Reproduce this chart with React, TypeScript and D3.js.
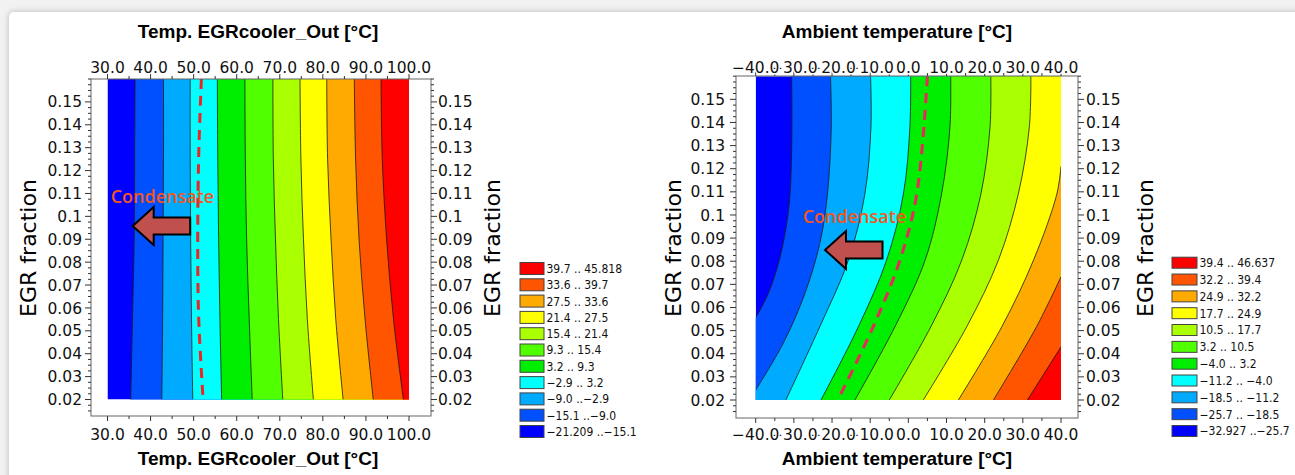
import React from 'react';
import * as d3 from 'd3';

// ---------------- data ----------------
const bandColors = ['#0000ff', '#0050ff', '#00aaff', '#00ffff', '#00ee00', '#50ff00', '#aaff00', '#ffff00', '#ffaa00', '#ff5500', '#ff0000'];

const fractionTicks = [0.02, 0.03, 0.04, 0.05, 0.06, 0.07, 0.08, 0.09, 0.1, 0.11, 0.12, 0.13, 0.14, 0.15];
const fractionTickLabels = ['0.02', '0.03', '0.04', '0.05', '0.06', '0.07', '0.08', '0.09', '0.1', '0.11', '0.12', '0.13', '0.14', '0.15'];

// Left chart: Temp. EGRcooler_Out
const leftTempTicks = [30, 40, 50, 60, 70, 80, 90, 100];
const leftTempTickLabels = ['30.0', '40.0', '50.0', '60.0', '70.0', '80.0', '90.0', '100.0'];
const leftLevels = [-21.209, -15.1, -9.0, -2.9, 3.2, 9.3, 15.4, 21.4, 27.5, 33.6, 39.7, 45.818];
const leftLegendLabels = ['39.7 .. 45.818', '33.6 .. 39.7', '27.5 .. 33.6', '21.4 .. 27.5', '15.4 .. 21.4', '9.3 .. 15.4', '3.2 .. 9.3', '\u22122.9 .. 3.2', '\u22129.0 ..\u22122.9', '\u221215.1 ..\u22129.0', '\u221221.209 ..\u221215.1'];
const leftBoundaryFractions = [0.16, 0.125, 0.09, 0.055, 0.02];
// temperature where each contour level (-15.1 ... 39.7) crosses the fractions above
const leftBoundaryTemps = [
  [36.4, 36.3, 36.2, 35.8, 35.4],
  [43.0, 43.0, 42.9, 42.8, 42.6],
  [49.2, 49.2, 49.3, 49.5, 49.8],
  [55.5, 55.6, 55.8, 56.1, 56.5],
  [61.9, 62.0, 62.3, 62.9, 63.6],
  [68.4, 68.5, 69.0, 69.7, 70.7],
  [74.7, 74.9, 75.5, 76.4, 77.8],
  [80.9, 81.1, 81.9, 83.0, 84.7],
  [87.3, 87.6, 88.4, 89.8, 91.7],
  [93.5, 93.8, 94.8, 96.4, 98.7],
];
const leftCondensate: [number, number][] = [[51.8, 0.16], [51.1, 0.12], [51.1, 0.06], [52.2, 0.02]];

// Right chart: Ambient temperature
const rightTempTicks = [-40, -30, -20, -10, 0, 10, 20, 30, 40];
const rightTempTickLabels = ['\u221240.0', '\u221230.0', '\u221220.0', '\u221210.0', '0.0', '10.0', '20.0', '30.0', '40.0'];
const rightLevels = [-32.927, -25.7, -18.5, -11.2, -4.0, 3.2, 10.5, 17.7, 24.9, 32.2, 39.4, 46.637];
const rightLegendLabels = ['39.4 .. 46.637', '32.2 .. 39.4', '24.9 .. 32.2', '17.7 .. 24.9', '10.5 .. 17.7', '3.2 .. 10.5', '\u22124.0 .. 3.2', '\u221211.2 .. \u22124.0', '\u221218.5 .. \u221211.2', '\u221225.7 .. \u221218.5', '\u221232.927 ..\u221225.7'];
// contour boundaries [ambient temp, EGR fraction], levels -25.7 ... 39.4
const rightBoundaries: [number, number][][] = [
  [[-30.6, 0.16], [-30.5, 0.138], [-31.0, 0.109], [-32.0, 0.095], [-33.8, 0.0805], [-36.7, 0.066], [-40, 0.0555]],
  [[-20.4, 0.16], [-20.2, 0.138], [-21.2, 0.109], [-23.2, 0.0877], [-27.1, 0.0661], [-32.8, 0.0445], [-40, 0.0243]],
  [[-9.9, 0.16], [-9.8, 0.138], [-11.4, 0.109], [-15.7, 0.0805], [-23.2, 0.0517], [-32.1, 0.02]],
  [[0.6, 0.16], [0.4, 0.138], [-1.3, 0.109], [-5.7, 0.0805], [-13.1, 0.0517], [-22.9, 0.02]],
  [[11.1, 0.16], [10.9, 0.138], [8.7, 0.109], [4.4, 0.0805], [-3.5, 0.0517], [-14.0, 0.02]],
  [[21.6, 0.16], [21.4, 0.138], [19.0, 0.109], [14.0, 0.0805], [5.9, 0.0517], [-5.0, 0.02]],
  [[32.1, 0.16], [31.7, 0.138], [28.8, 0.109], [23.6, 0.0805], [15.3, 0.0517], [3.9, 0.02]],
  [[40, 0.121], [38.9, 0.109], [32.8, 0.0805], [24.5, 0.0517], [13.1, 0.02]],
  [[40, 0.0733], [33.6, 0.0517], [22.3, 0.02]],
  [[40, 0.043], [31.2, 0.02]],
];
const rightCondensate: [number, number][] = [[5.0, 0.16], [2.2, 0.109], [-2.2, 0.0805], [-9.2, 0.0517], [-18.5, 0.02]];

// ---------------- chart ----------------
type Cfg = {
  id: string;
  title: string;
  titleX: number;
  xDomain: [number, number];
  xRange: [number, number];
  yRange: [number, number];
  frame: { l: number; t: number; r: number; b: number };
  xTicks: number[];
  xTickLabels: string[];
  boundaries: [number, number][][];
  condensate: [number, number][];
  dashColor: string;
  arrowTip: [number, number];
  textPos: [number, number];
  yLabelLeftX: number;
  yLabelRightX: number;
  yTickLabelLeftX: number;
  yTickLabelRightX: number;
  legendX: number;
  legendY: number;
  legendPitch: number;
  legendW: number;
  legendH: number;
  legendLabels: string[];
};

const leftCfg: Cfg = {
  id: 'left',
  title: 'Temp. EGRcooler_Out [°C]',
  titleX: 258,
  xDomain: [30, 100],
  xRange: [107.5, 409],
  yRange: [399.5, 79],
  frame: { l: 91, t: 79, r: 431, b: 416 },
  xTicks: leftTempTicks,
  xTickLabels: leftTempTickLabels,
  boundaries: leftBoundaryTemps.map((row) => row.map((t, j) => [t, leftBoundaryFractions[j]] as [number, number])),
  condensate: leftCondensate,
  dashColor: '#ee2424',
  arrowTip: [35.85, 0.0958],
  textPos: [30.74, 0.1059],
  yLabelLeftX: 36,
  yLabelRightX: 500,
  yTickLabelLeftX: 82,
  yTickLabelRightX: 438,
  legendX: 520,
  legendY: 268.5,
  legendPitch: 16.3,
  legendW: 24,
  legendH: 12,
  legendLabels: leftLegendLabels,
};

const rightCfg: Cfg = {
  id: 'right',
  title: 'Ambient temperature [°C]',
  titleX: 897,
  xDomain: [-40, 40],
  xRange: [755.7, 1061],
  yRange: [400, 76.2],
  frame: { l: 736, t: 76, r: 1078, b: 418 },
  xTicks: rightTempTicks,
  xTickLabels: rightTempTickLabels,
  boundaries: rightBoundaries,
  condensate: rightCondensate,
  dashColor: '#e8285a',
  arrowTip: [-21.84, 0.0849],
  textPos: [-27.68, 0.0967],
  yLabelLeftX: 681,
  yLabelRightX: 1153,
  yTickLabelLeftX: 725,
  yTickLabelRightX: 1086,
  legendX: 1172,
  legendY: 262.7,
  legendPitch: 16.83,
  legendW: 25,
  legendH: 11,
  legendLabels: rightLegendLabels,
};

const tickFont = 'DejaVu Sans, Verdana, sans-serif';

function ContourPanel({ c }: { c: Cfg }) {
  const x = d3.scaleLinear().domain(c.xDomain).range(c.xRange);
  const y = d3.scaleLinear().domain([0.02, 0.16]).range(c.yRange);
  const line = d3
    .line<[number, number]>()
    .x((d) => x(d[0]))
    .y((d) => y(d[1]))
    .curve(d3.curveCatmullRom.alpha(0.5));
  const [x0, x1] = c.xDomain;
  const span = x1 - x0;
  const farBL = `${x(x0 - span * 0.3)},${y(-0.02)}`;
  const farBR = `${x(x1 + span * 0.3)},${y(-0.02)}`;
  const farTR = `${x(x1 + span * 0.3)},${y(0.2)}`;
  const clipId = `${c.id}-clip`;
  const dx0 = x(x0), dx1 = x(x1), dy0 = y(0.16), dy1 = y(0.02);
  const { l, t, r, b } = c.frame;

  const minorX = d3.range(x0, x1 + 0.001, 5).filter((v) => !c.xTicks.includes(v));
  const minorY = d3.range(0.015, 0.1601, 0.0025).filter((v) => !fractionTicks.some((f) => Math.abs(f - v) < 1e-6));

  const tx = x(c.arrowTip[0]);
  const ty = y(c.arrowTip[1]);
  const arrow = [
    [tx, ty], [tx + 21, ty - 19], [tx + 21, ty - 8.5], [tx + 57.5, ty - 8.5],
    [tx + 57.5, ty + 8.5], [tx + 21, ty + 8.5], [tx + 21, ty + 19],
  ].map((p) => p.join(',')).join(' ');

  const reversedX = c.xTicks.map((v, i) => ({ v, label: c.xTickLabels[i] })).reverse();

  return (
    <g>
      <defs>
        <clipPath id={clipId}>
          <rect x={dx0} y={dy0} width={dx1 - dx0} height={dy1 - dy0} />
        </clipPath>
      </defs>
      <g clipPath={`url(#${clipId})`}>
        <rect x={dx0} y={dy0} width={dx1 - dx0} height={dy1 - dy0} fill={bandColors[0]} />
        {c.boundaries.map((bd, i) => (
          <path key={`b${i}`} d={`${line(bd)}L${farBL}L${farBR}L${farTR}Z`} fill={bandColors[i + 1]} />
        ))}
        {c.boundaries.map((bd, i) => (
          <path key={`l${i}`} d={line(bd) || ''} fill="none" stroke="#1a1a1a" strokeWidth={0.8} />
        ))}
        <path d={line(c.condensate) || ''} fill="none" stroke={c.dashColor} strokeWidth={3} strokeDasharray="10 7" />
      </g>

      {/* frame */}
      <rect x={l} y={t} width={r - l} height={b - t} fill="none" stroke="#666" strokeWidth={1} />

      {/* x ticks */}
      {c.xTicks.map((v) => (
        <g key={`xt${v}`} stroke="#333" strokeWidth={1}>
          <line x1={x(v)} x2={x(v)} y1={t} y2={t - 5} />
          <line x1={x(v)} x2={x(v)} y1={b} y2={b + 5} />
        </g>
      ))}
      {minorX.map((v) => (
        <g key={`xm${v}`} stroke="#333" strokeWidth={1}>
          <line x1={x(v)} x2={x(v)} y1={t} y2={t - 3} />
          <line x1={x(v)} x2={x(v)} y1={b} y2={b + 3} />
        </g>
      ))}
      {reversedX.map(({ v, label }) => (
        <g key={`xl${v}`} fontFamily={tickFont} fontSize={15.5} textAnchor="middle" fill="#111">
          <text x={x(v)} y={72.5} stroke="#fff" strokeWidth={3} paintOrder="stroke">{label}</text>
          <text x={x(v)} y={439.5} stroke="#fff" strokeWidth={3} paintOrder="stroke">{label}</text>
        </g>
      ))}

      {/* y ticks */}
      {fractionTicks.map((v, i) => (
        <g key={`yt${v}`}>
          <line x1={l} x2={l - 6} y1={y(v)} y2={y(v)} stroke="#333" />
          <line x1={r} x2={r + 6} y1={y(v)} y2={y(v)} stroke="#333" />
          <text x={c.yTickLabelLeftX} y={y(v) + 5.6} textAnchor="end" fontFamily={tickFont} fontSize={15.5} fill="#111">
            {fractionTickLabels[i]}
          </text>
          <text x={c.yTickLabelRightX} y={y(v) + 5.6} textAnchor="start" fontFamily={tickFont} fontSize={15.5} fill="#111">
            {fractionTickLabels[i]}
          </text>
        </g>
      ))}
      {minorY.map((v) => (
        <g key={`ym${v}`} stroke="#333">
          <line x1={l} x2={l - 3} y1={y(v)} y2={y(v)} />
          <line x1={r} x2={r + 3} y1={y(v)} y2={y(v)} />
        </g>
      ))}

      {/* titles */}
      <g fontFamily="Liberation Sans, Arial, sans-serif" fontWeight="bold" fontSize={19} textAnchor="middle" fill="#000">
        <text x={c.titleX} y={38}>{c.title}</text>
        <text x={c.titleX} y={465}>{c.title}</text>
      </g>
      <g fontFamily={tickFont} fontSize={22} textAnchor="middle" fill="#000">
        <text transform={`translate(${c.yLabelLeftX},248) rotate(-90)`}>EGR fraction</text>
        <text transform={`translate(${c.yLabelRightX},248) rotate(-90)`}>EGR fraction</text>
      </g>

      {/* annotation */}
      <text x={x(c.textPos[0])} y={y(c.textPos[1])} fontFamily="Open Sans, sans-serif" fontSize={18} fontWeight={600} fill="#f4561e">
        Condensate
      </text>
      <polygon points={arrow} fill="#c0504d" stroke="#000" strokeWidth={2} strokeLinejoin="miter" />

      {/* legend */}
      {c.legendLabels.map((lab, i) => {
        const cy = c.legendY + i * c.legendPitch;
        return (
          <g key={`lg${i}`}>
            <rect x={c.legendX} y={cy - c.legendH / 2} width={c.legendW} height={c.legendH}
              fill={bandColors[bandColors.length - 1 - i]} stroke="#444" strokeWidth={1} />
            <text x={c.legendX + c.legendW + 2.5} y={cy + 4.4} fontFamily="DejaVu Sans Condensed, DejaVu Sans, sans-serif"
              fontSize={12} fill="#111">{lab}</text>
          </g>
        );
      })}
    </g>
  );
}

export default function App() {
  const W = 1295;
  const H = 475;
  return (
    <div style={{ position: 'absolute', left: 0, top: 0 }}>
      <svg width={W} height={H} style={{ display: 'block' }}>
        <defs>
          <filter id="cardShadow" x="-5%" y="-5%" width="110%" height="110%">
            <feGaussianBlur stdDeviation={3} />
          </filter>
        </defs>
        <rect width={W} height={H} fill="#f2f2f2" />
        <rect x={9} y={12} width={1400} height={600} rx={5} fill="#b8b8b8" filter="url(#cardShadow)" />
        <rect x={9} y={12} width={1400} height={600} rx={5} fill="#ffffff" />
        <ContourPanel c={leftCfg} />
        <ContourPanel c={rightCfg} />
      </svg>
    </div>
  );
}
